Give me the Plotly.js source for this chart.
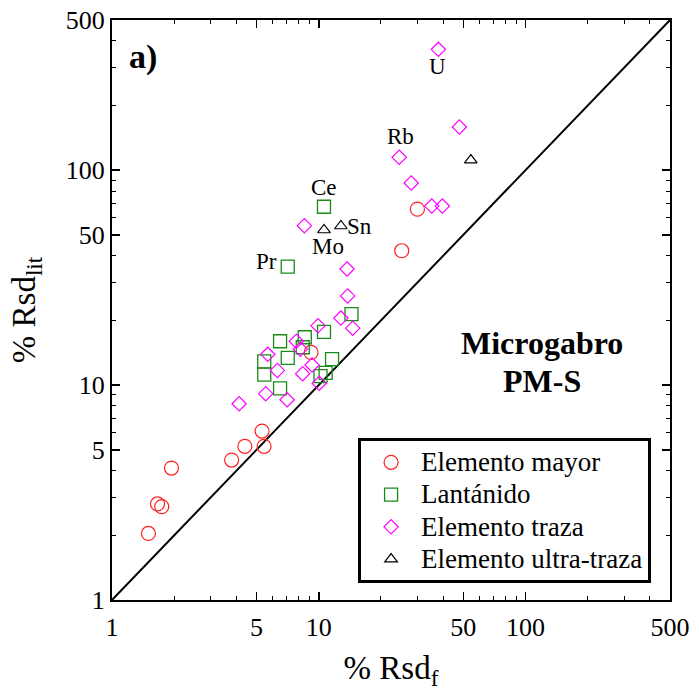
<!DOCTYPE html>
<html>
<head>
<meta charset="utf-8">
<script src="https://cdn.plot.ly/plotly-3.0.1.min.js"></script>
<style>html,body{margin:0;padding:0;background:#fff;}#chart{width:699px;height:691px;}</style>
</head>
<body>
<div id="chart"></div>
<script>
// Elemento mayor (red circles)
const mayorX = [1.50, 1.66, 1.74, 1.94, 3.79, 4.39, 5.32, 5.44, 9.18, 30.0, 25.2];
const mayorY = [2.04, 2.80, 2.72, 4.11, 4.48, 5.19, 6.11, 5.19, 14.2, 65.9, 42.2];
// Lantánido (green squares)
const lantX = [14.4, 10.6, 6.50, 8.56, 8.37, 7.08, 5.45, 5.45, 6.50, 11.6, 10.8, 10.2, 10.6, 7.08];
const lantY = [21.4, 17.7, 16.0, 16.7, 15.0, 13.4, 12.9, 11.2, 9.66, 13.2, 11.4, 11.0, 67.6, 35.6];
// Elemento traza (magenta diamonds)
const trazaX = [4.12, 5.54, 7.03, 5.67, 6.31, 7.79, 8.15, 8.36, 9.28, 9.92, 10.05, 12.8, 14.6, 13.8, 13.7, 8.52, 37.9, 47.9, 24.5, 28.0, 35.2, 39.6];
const trazaY = [8.19, 9.12, 8.55, 13.9, 11.7, 16.0, 14.7, 11.3, 12.4, 18.9, 10.2, 20.5, 18.4, 26.0, 34.7, 55.2, 365, 158.9, 114.8, 87.2, 68.1, 68.1];
// Elemento ultra-traza (black triangles)
const ultraX = [10.6, 12.8, 54.4];
const ultraY = [52.7, 55.0, 111.5];
// 1:1 line
const lineX = [1, 500];
const lineY = [1, 500];
// series names
const seriesNames = ['Elemento mayor', 'Lantánido', 'Elemento traza', 'Elemento ultra-traza'];
// ticks
const majorTicks = [1, 5, 10, 50, 100, 500];
const majorText = ['1', '5', '10', '50', '100', '500'];
const minorTicks = [2, 3, 4, 6, 7, 8, 9, 20, 30, 40, 60, 70, 80, 90, 200, 300, 400];
// labelled points: text, the point it names
const labelText = ['U', 'Rb', 'Ce', 'Sn', 'Mo', 'Pr'];
const labelPtX = [trazaX[16], trazaX[18], lantX[12], ultraX[1], ultraX[0], lantX[13]];
const labelPtY = [trazaY[16], trazaY[18], lantY[12], ultraY[1], ultraY[0], lantY[13]];
// pixel offsets of each label from its point (style)
const labelDX = [-1, 1, 0, 19, 4, -21];
const labelDY = [-17, 21, 19, 0, -17, 5];

const FONT = 'Liberation Serif, Times New Roman, serif';
const big = s => '<span style="font-size:27px">' + s + '</span>';

const traces = [
  {x: lineX, y: lineY, mode: 'lines', line: {color: 'black', width: 2}, showlegend: false, hoverinfo: 'skip'},
  {x: mayorX, y: mayorY, mode: 'markers', name: big(seriesNames[0]),
   marker: {symbol: 'circle-open', size: 14, color: '#ff2020', line: {width: 1.2}}},
  {x: lantX, y: lantY, mode: 'markers', name: big(seriesNames[1]),
   marker: {symbol: 'square-open', size: 13, color: '#1a8a1a', line: {width: 1.3}}},
  {x: trazaX, y: trazaY, mode: 'markers', name: big(seriesNames[2]),
   marker: {symbol: 'diamond-open', size: 11, color: '#ff00ff', line: {width: 1.2}}},
  {x: ultraX, y: ultraY, mode: 'markers', name: big(seriesNames[3]),
   marker: {symbol: 'triangle-up-open', size: 11, color: 'black', line: {width: 1.2}}}
];

const axisCommon = {
  type: 'log',
  tickmode: 'array',
  tickvals: majorTicks,
  ticktext: majorText,
  ticks: 'inside',
  ticklen: 8,
  tickwidth: 1.5,
  tickcolor: 'black',
  showline: true,
  linecolor: 'black',
  linewidth: 2,
  mirror: 'ticks',
  showgrid: false,
  zeroline: false,
  tickfont: {family: FONT, size: 26, color: 'black'},
  minor: {tickmode: 'array', tickvals: minorTicks, ticks: 'inside', ticklen: 4, tickwidth: 1, tickcolor: 'black', showgrid: false}
};

const annotations = labelText.map((t, i) => ({
  x: Math.log10(labelPtX[i]), y: Math.log10(labelPtY[i]), xref: 'x', yref: 'y',
  xshift: labelDX[i], yshift: labelDY[i], xanchor: 'center', yanchor: 'middle',
  text: t, showarrow: false, font: {family: FONT, size: 23, color: 'black'}
}));
annotations.push({x: 0.0556, y: 0.937, xref: 'paper', yref: 'paper', xanchor: 'center', yanchor: 'middle',
  text: '<b>a)</b>', showarrow: false, font: {family: FONT, size: 34, color: 'black'}});
annotations.push({x: 0.770, y: 0.443, xref: 'paper', yref: 'paper', xanchor: 'center', yanchor: 'middle',
  text: '<b>Microgabro</b>', showarrow: false, font: {family: FONT, size: 32, color: 'black'}});
annotations.push({x: 0.770, y: 0.377, xref: 'paper', yref: 'paper', xanchor: 'center', yanchor: 'middle',
  text: '<b>PM-S</b>', showarrow: false, font: {family: FONT, size: 32, color: 'black'}});

const layout = {
  width: 699, height: 691,
  margin: {l: 112, r: 29, t: 20, b: 91},
  paper_bgcolor: 'white', plot_bgcolor: 'white',
  font: {family: FONT, color: 'black'},
  showlegend: true,
  xaxis: Object.assign({}, axisCommon, {range: [0, Math.log10(500)], ticklabelstandoff: 3,
    title: {text: '% Rsd<sub>f</sub>', font: {family: FONT, size: 33}, standoff: 18}}),
  yaxis: Object.assign({}, axisCommon, {range: [0, Math.log10(500)],
    title: {text: '% Rsd<sub>lit</sub>', font: {family: FONT, size: 33}, standoff: 20}}),
  legend: {x: 0.441, y: 0.279, xanchor: 'left', yanchor: 'top', bgcolor: 'white',
    bordercolor: 'black', borderwidth: 3, font: {family: FONT, size: 22.5, color: 'black'},
    itemwidth: 50},
  annotations: annotations
};

Plotly.newPlot('chart', traces, layout, {displayModeBar: false, staticPlot: true});
</script>
</body>
</html>
